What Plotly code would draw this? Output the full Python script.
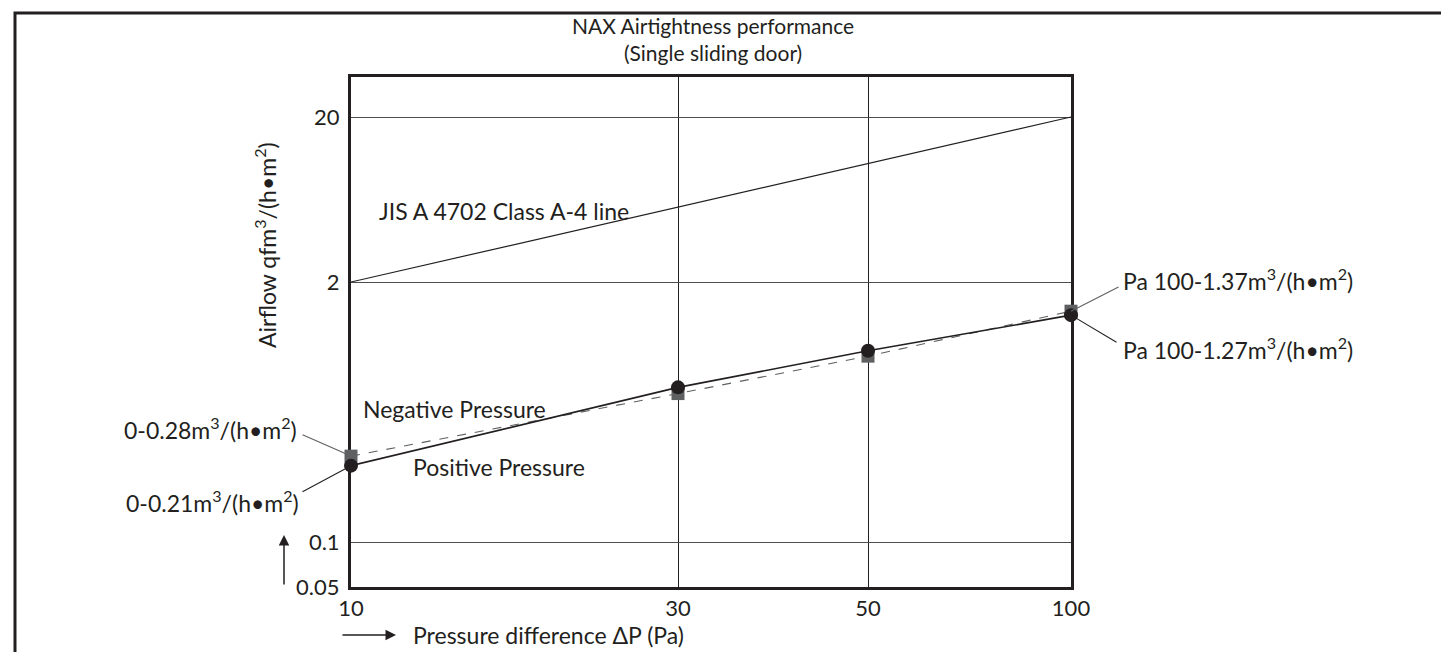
import numpy as np
import plotly.graph_objects as go

# ---- data ----
pressure = [10, 30, 50, 100]                 # Pa
positive_flow = [0.241, 0.594, 0.905, 1.365]  # positive pressure (circles)
negative_flow = [0.269, 0.553, 0.851, 1.429]  # negative pressure (squares)
jis_pressure = [10, 100]
jis_flow = [2, 20]

x_ticks = [10, 30, 50, 100]
x_tick_text = ["10", "30", "50", "100"]
y_ticks = [0.05, 0.1, 2, 20]
y_tick_text = ["0.05", "0.1", "2", "20"]

# ---- schematic (non-uniform) scale of the original drawing ----
X_ANCHOR_POS = [0, 327, 517, 720]
Y_ANCHOR_POS = [0, 45, 305, 470]
X_RANGE = [0, 720]
Y_RANGE = [0, 510]


def sx(v):
    return np.interp(np.log10(np.asarray(v, float)), np.log10(x_ticks), X_ANCHOR_POS)


def sy(v):
    return np.interp(np.log10(np.asarray(v, float)), np.log10(y_ticks), Y_ANCHOR_POS)


INK = "#231f20"
GRAY = "#5f6062"
FONT = "Lato"
FS = 23
FS_TICK = 22
FS_TITLE = 21

fig = go.Figure()

fig.add_trace(go.Scatter(x=sx(jis_pressure), y=sy(jis_flow), mode="lines",
                         line=dict(color=INK, width=1.2), hoverinfo="skip", cliponaxis=False))
fig.add_trace(go.Scatter(x=sx(pressure), y=sy(negative_flow), mode="lines+markers",
                         line=dict(color=GRAY, width=1.1, dash="dash"),
                         marker=dict(symbol="square", size=13, color=GRAY),
                         name="Negative Pressure", cliponaxis=False))
fig.add_trace(go.Scatter(x=sx(pressure), y=sy(positive_flow), mode="lines+markers",
                         line=dict(color=INK, width=1.6),
                         marker=dict(symbol="circle", size=14, color=INK),
                         name="Positive Pressure", cliponaxis=False))

axis_common = dict(showline=True, mirror=True, linecolor=INK, linewidth=3,
                   ticks="", zeroline=False, showgrid=True, layer="below traces",
                   tickfont=dict(family=FONT, size=FS_TICK, color=INK))
fig.update_xaxes(range=X_RANGE, tickvals=sx(x_ticks), ticktext=x_tick_text,
                 gridcolor=INK, gridwidth=1, **axis_common)
fig.update_yaxes(range=Y_RANGE, tickvals=sy(y_ticks), ticktext=y_tick_text,
                 gridcolor="#4d4d4d", gridwidth=1.3, ticklabelstandoff=4, **axis_common)

L, R, T, B = 343, 1449 - 1063, 69, 652 - 579
PW, PH = 1063 - 343, 579 - 69


def px(xp):
    return (xp - L) / PW


def py(yp):
    return (579 - yp) / PH


shapes = [
    dict(type="rect", xref="paper", yref="paper", x0=px(7), x1=px(1446), y0=py(700), y1=py(5),
         line=dict(color=INK, width=3), layer="below"),
]

unit = "m<sup>3</sup>/(h•m<sup>2</sup>)"
tf = dict(family=FONT, size=FS, color=INK)


def txt(text, xp, yp, xanchor="left", font=tf, **kw):
    return dict(text=text, xref="paper", yref="paper", x=px(xp), y=py(yp), xanchor=xanchor,
                yanchor="middle", showarrow=False, font=font, **kw)


def leader(xv, yv, dx, dy, color):
    # thin leader line starting at a data point, running dx/dy pixels away
    return dict(text="", x=float(sx(xv)), y=float(sy(yv)), ax=dx, ay=dy, axref="pixel",
                ayref="pixel", showarrow=True, arrowhead=0, arrowwidth=1.1,
                arrowcolor=color, standoff=0, startstandoff=0)


def point_label(text, xv, yv, dx, dy, xanchor):
    return dict(text=text, x=float(sx(xv)), y=float(sy(yv)), xshift=dx, yshift=dy,
                xanchor=xanchor, yanchor="middle", showarrow=False, font=tf)


annotations = [
    txt("NAX Airtightness performance<br>(Single sliding door)", 705, 31, xanchor="center",
        font=dict(family=FONT, size=FS_TITLE, color=INK)),
    txt("Airflow qfm<sup>3</sup>/(h•m<sup>2</sup>)", 257, 237, xanchor="center", textangle=-90),
    txt("JIS A 4702 Class A-4 line", 369, 203),
    txt("Negative Pressure", 353, 401),
    txt("Positive Pressure", 403, 459),
    txt("Pressure difference ΔP (Pa)", 403, 627),
    point_label("0-0.28" + unit, pressure[0], negative_flow[0], -52, 28, "right"),
    point_label("0-0.21" + unit, pressure[0], positive_flow[0], -50, -36, "right"),
    point_label("Pa 100-1.37" + unit, pressure[-1], negative_flow[-1], 50, 32, "left"),
    point_label("Pa 100-1.27" + unit, pressure[-1], positive_flow[-1], 50, -33, "left"),
    leader(pressure[0], negative_flow[0], -50, -22, GRAY),
    leader(pressure[0], positive_flow[0], -50, 27, INK),
    leader(pressure[-1], negative_flow[-1], 49, -25, GRAY),
    leader(pressure[-1], positive_flow[-1], 47, 28, INK),
    # axis arrows
    dict(text="", xref="paper", yref="paper", x=px(388), y=py(627), ax=-55, ay=0,
         showarrow=True, arrowhead=2, arrowsize=1.4, arrowwidth=1.5, arrowcolor=INK),
    dict(text="", xref="paper", yref="paper", x=px(276), y=py(527), ax=0, ay=51,
         showarrow=True, arrowhead=2, arrowsize=1.4, arrowwidth=1.5, arrowcolor=INK),
]

fig.update_layout(width=1449, height=652, margin=dict(l=L, r=R, t=T, b=B),
                  plot_bgcolor="white", paper_bgcolor="white", showlegend=False,
                  shapes=shapes, annotations=annotations,
                  font=dict(family=FONT, size=FS, color=INK))

fig.write_html("out.html")
